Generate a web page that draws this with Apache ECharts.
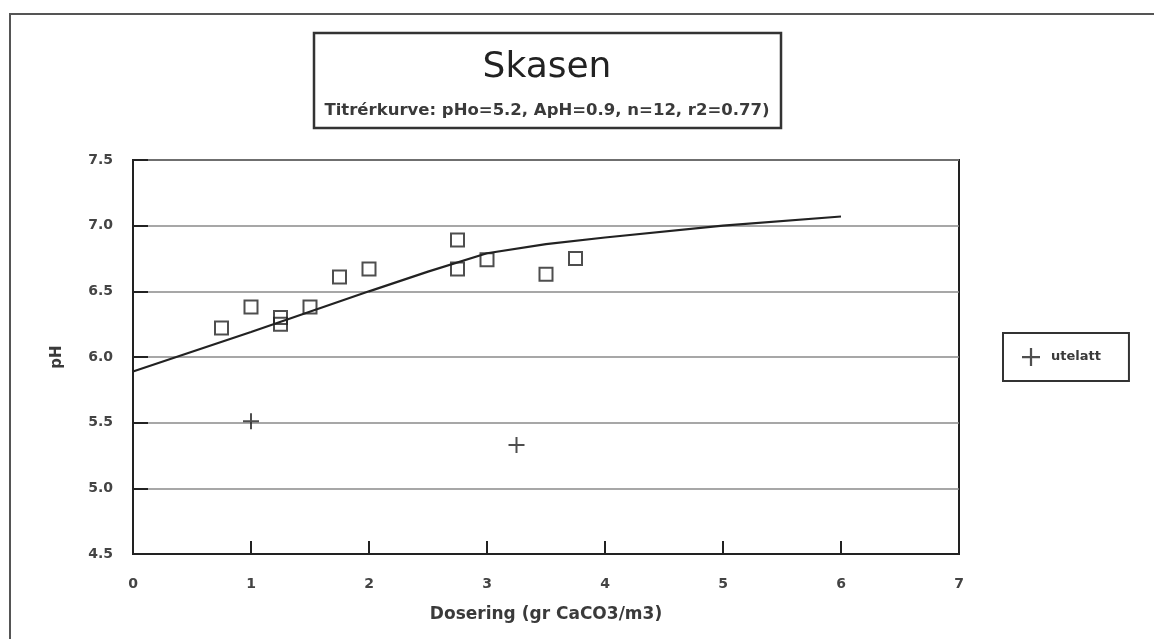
<!DOCTYPE html>
<html lang="no">
  <head>
    <meta charset="UTF-8" />
    <title>Skasen</title>
    <script src="https://cdn.jsdelivr.net/npm/echarts@6/dist/echarts.min.js"></script>
    <style>
      html, body { margin: 0; padding: 0; background: #fff; }
      #main { width: 1154px; height: 639px; }
    </style>
  </head>
  <body>
    <div id="main"></div>
    <script>
      // measured points (dose, pH)
      const doseMeasured = [0.75, 1.0, 1.25, 1.25, 1.5, 1.75, 2.0, 2.75, 2.75, 3.0, 3.5, 3.75];
      const phMeasured = [6.22, 6.38, 6.30, 6.25, 6.38, 6.61, 6.67, 6.89, 6.67, 6.74, 6.63, 6.75];

      // excluded points
      const doseExcluded = [1.0, 3.25];
      const phExcluded = [5.51, 5.33];

      // fitted titration curve
      const doseCurve = [0, 1, 2, 2.5, 3, 3.5, 4, 5, 6];
      const phCurve = [5.89, 6.19, 6.5, 6.65, 6.79, 6.86, 6.91, 7.0, 7.07];

      const plusIcon = 'path://M7,0h2v7h7v2h-7v7h-2v-7h-7v-2h7z';
      const font = '"DejaVu Sans", Arial, sans-serif';

      function zip(xs, ys) {
        return xs.map((x, i) => [x, ys[i]]);
      }

      const chart = echarts.init(document.getElementById('main'));

      const options = {
        animation: false,
        backgroundColor: '#fff',
        grid: {
          left: 133,
          right: 195,
          top: 160,
          bottom: 85,
          show: true,
          borderColor: '#222',
          borderWidth: 2,
        },
        xAxis: {
          type: 'value',
          min: 0,
          max: 7,
          interval: 1,
          name: 'Dosering (gr CaCO3/m3)',
          nameLocation: 'middle',
          nameGap: 52,
          nameTextStyle: { fontFamily: font, fontSize: 17, fontWeight: 'bold', color: '#3a3a3a' },
          axisLine: { lineStyle: { color: '#222', width: 2 } },
          axisTick: { inside: true, length: 13, lineStyle: { color: '#222', width: 2 } },
          axisLabel: { margin: 23, fontFamily: font, fontSize: 14, fontWeight: 'bold', color: '#444' },
          splitLine: { show: false },
        },
        yAxis: {
          type: 'value',
          min: 4.5,
          max: 7.5,
          interval: 0.5,
          name: 'pH',
          nameLocation: 'middle',
          nameGap: 68,
          nameRotate: 90,
          nameTextStyle: { fontFamily: font, fontSize: 15, fontWeight: 'bold', color: '#3a3a3a' },
          axisLine: { lineStyle: { color: '#222', width: 2 } },
          axisTick: { inside: true, length: 15, lineStyle: { color: '#222', width: 2 } },
          axisLabel: {
            margin: 20,
            fontFamily: font,
            fontSize: 14,
            fontWeight: 'bold',
            color: '#444',
            formatter: (v) => v.toFixed(1),
          },
          splitLine: { show: true, lineStyle: { color: '#8a8a8a', width: 1.5 } },
        },
        legend: {
          data: [{ name: 'utelatt', icon: plusIcon }],
          left: 1003,
          top: 333,
          orient: 'vertical',
          padding: [15, 28, 15, 19],
          borderColor: '#333',
          borderWidth: 2,
          itemWidth: 18,
          itemHeight: 18,
          itemGap: 0,
          selectedMode: false,
          textStyle: {
            fontFamily: font,
            fontSize: 13,
            fontWeight: 'bold',
            color: '#3a3a3a',
            padding: [0, 0, 0, 6],
          },
        },
        graphic: [
          {
            type: 'polyline',
            shape: { points: [[10, 639], [10, 14], [1154, 14]] },
            style: { stroke: '#555', lineWidth: 2, fill: null },
          },
          {
            type: 'rect',
            shape: { x: 314, y: 33, width: 467, height: 95 },
            style: { stroke: '#333', lineWidth: 2.5, fill: '#fff' },
          },
          {
            type: 'text',
            x: 547,
            y: 68,
            style: {
              text: 'Skasen',
              fill: '#222',
              font: '36px ' + font,
              align: 'center',
              verticalAlign: 'middle',
            },
          },
          {
            type: 'text',
            x: 547,
            y: 111,
            style: {
              text: 'Titrérkurve: pHo=5.2, ApH=0.9, n=12, r2=0.77)',
              fill: '#3a3a3a',
              font: 'bold 16.5px ' + font,
              align: 'center',
              verticalAlign: 'middle',
            },
          },
        ],
        series: [
          {
            name: 'kurve',
            type: 'line',
            data: zip(doseCurve, phCurve),
            showSymbol: false,
            lineStyle: { color: '#222', width: 2.2 },
            z: 2,
          },
          {
            name: 'målt',
            type: 'scatter',
            data: zip(doseMeasured, phMeasured),
            symbol: 'rect',
            symbolSize: 13,
            itemStyle: { color: 'rgba(0,0,0,0)', borderColor: '#222', borderWidth: 2 },
            z: 3,
          },
          {
            name: 'utelatt',
            type: 'scatter',
            data: zip(doseExcluded, phExcluded),
            symbol: plusIcon,
            symbolSize: 16,
            itemStyle: { color: '#222' },
            z: 3,
          },
        ],
      };

      chart.setOption(options);

      window.onresize = function () {
        chart.resize();
      };
    </script>
  </body>
</html>
